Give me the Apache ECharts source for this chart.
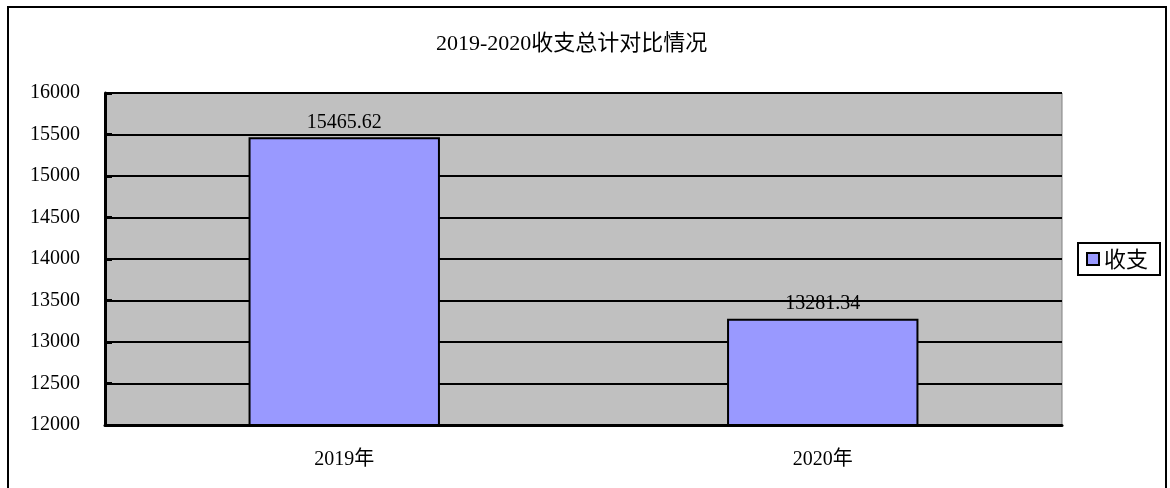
<!DOCTYPE html>
<html>
<head>
<meta charset="utf-8">
<script src="https://cdn.jsdelivr.net/npm/echarts@6/dist/echarts.min.js"></script>
<style>
    html, body { margin: 0; padding: 0; background: #fff; }
    #chart { width: 1170px; height: 488px; }
</style>
</head>
<body>
<div id="chart"></div>
<script>
// 数据
var categories = ['2019年', '2020年'];
var values = [15465.62, 13281.34];
var seriesName = '收支';
var yTicks = [12000, 16000, 500]; // min, max, interval

var font = "'Liberation Serif', 'Noto Sans CJK SC', serif";

var myChart = echarts.init(document.getElementById('chart'));
var option = {
    animation: false,
    title: {
        text: '2019-2020收支总计对比情况',
        left: 436,
        top: 33,
        padding: 0,
        textStyle: {
            fontFamily: font,
            fontSize: 22,
            fontWeight: 'normal',
            color: '#000'
        }
    },
    legend: {
        left: 1078,
        top: 243,
        orient: 'vertical',
        data: [seriesName],
        icon: 'rect',
        itemWidth: 12,
        itemHeight: 12,
        itemGap: 0,
        padding: [5, 12, 5, 8],
        borderColor: '#000',
        borderWidth: 2,
        itemStyle: { borderColor: '#000', borderWidth: 2 },
        textStyle: {
            fontFamily: "'Noto Sans CJK SC', sans-serif",
            fontSize: 22,
            color: '#000'
        }
    },
    grid: {
        left: 105,
        right: 108,
        top: 93,
        bottom: 63,
        show: true,
        backgroundColor: '#C0C0C0',
        borderColor: '#808080',
        borderWidth: 1
    },
    xAxis: {
        type: 'category',
        data: categories,
        axisLine: { lineStyle: { color: '#000', width: 3 } },
        axisTick: { inside: true, length: 7, lineStyle: { color: '#000', width: 3 } },
        axisLabel: {
            margin: 25,
            fontFamily: font,
            fontSize: 20,
            color: '#000'
        }
    },
    yAxis: {
        type: 'value',
        min: yTicks[0],
        max: yTicks[1],
        interval: yTicks[2],
        axisLine: { show: true, lineStyle: { color: '#000', width: 3 } },
        axisTick: { show: true, inside: true, length: 7, lineStyle: { color: '#000', width: 3 } },
        splitLine: { lineStyle: { color: '#000', width: 2 } },
        axisLabel: {
            margin: 25,
            fontFamily: font,
            fontSize: 20,
            color: '#000',
            formatter: function (v) { return String(v); }
        }
    },
    series: [{
        name: seriesName,
        type: 'bar',
        barWidth: '40%',
        data: values,
        itemStyle: {
            color: '#9999FF',
            borderColor: '#000',
            borderWidth: 2
        },
        label: {
            show: true,
            position: 'top',
            distance: 5,
            fontFamily: font,
            fontSize: 20,
            color: '#000'
        }
    }],
    graphic: [{
        type: 'rect',
        shape: { x: 8, y: 7, width: 1158, height: 500 },
        style: { fill: null, stroke: '#000', lineWidth: 2 }
    }]
};
myChart.setOption(option);
</script>
</body>
</html>
